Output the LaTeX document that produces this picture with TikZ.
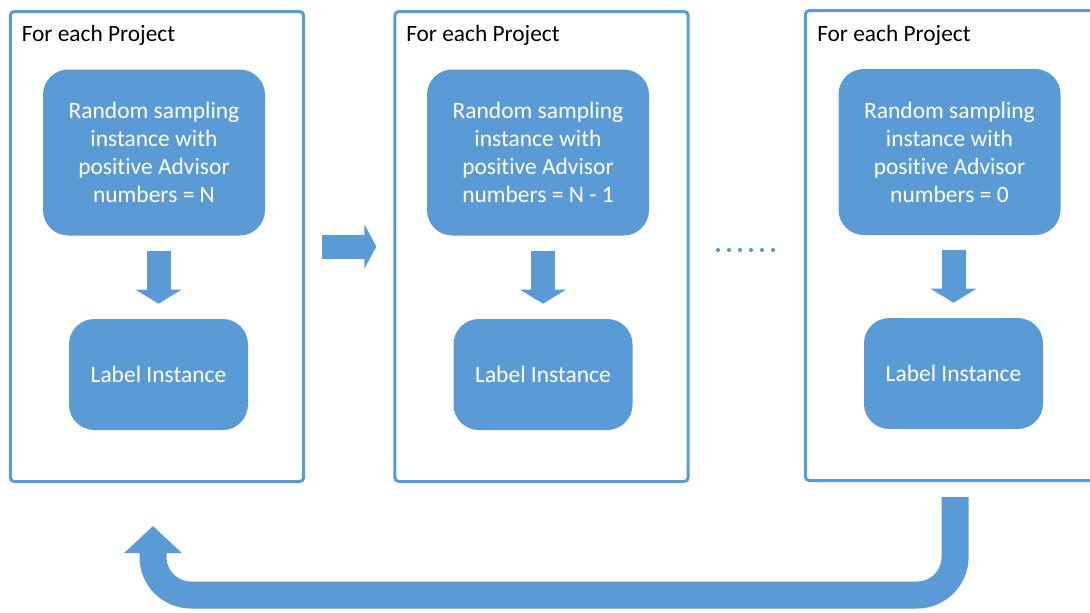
\documentclass[tikz,border=0pt]{standalone}
\usepackage{fontspec}
\setmainfont{Carlito}[Ligatures=NoCommon]
\usetikzlibrary{arrows.meta}
\definecolor{bl}{RGB}{91,155,213}
\begin{document}
\begin{tikzpicture}[x=0.75pt,y=-0.75pt,
  frame/.style={draw=bl, line width=2.25pt, fill=white, rounded corners=3pt,
    minimum width=220pt, minimum height=352.5pt, inner sep=0pt},
  ttl/.style={anchor=base west, font=\fontsize{17.5}{21}\selectfont, text=black, inner sep=0pt},
  topbox/.style={fill=bl, rounded corners=19pt, text=white, align=center, inner sep=0pt,
    font=\fontsize{17.6}{21}\selectfont, minimum width=166.5pt, minimum height=124.5pt},
  lowbox/.style={fill=bl, rounded corners=19pt, text=white, align=center, inner sep=0pt,
    font=\fontsize{17.6}{21}\selectfont, minimum width=134.25pt, minimum height=83.25pt},
  darrow/.style={draw=bl, line width=18pt, -{Triangle[width=33.75pt,length=10.5pt]}},
  rarrow/.style={draw=bl, line width=18pt, -{Triangle[width=33pt,length=9pt]}},
  uarrow/.style={draw=bl, line width=20.25pt, rounded corners=28.5pt, -{Triangle[width=42pt,length=20.25pt]}}
]
\useasboundingbox (0,0) rectangle (1090,612);
% frames
\node[frame] (b1) at (157,246.5) {};
\node[frame] (b2) at (541.5,246.5) {};
\node[frame] (b3) at (952,245.5) {};
% titles
\node[ttl] (t1) at (21.5,41) {For each Project};
\node[ttl] (t2) at (406,41) {For each Project};
\node[ttl] (t3) at (817,41) {For each Project};
% top boxes
\node[topbox] (r1) at (154,152.5) {Random sampling\\instance with\\positive Advisor\\numbers = N};
\node[topbox] (r2) at (538,152.5) {Random sampling\\instance with\\positive Advisor\\numbers = N - 1};
\node[topbox] (r3) at (949.5,152) {Random sampling\\instance with\\positive Advisor\\numbers = 0};
% lower boxes
\node[lowbox] (l1) at (158.5,374.5) {Label Instance};
\node[lowbox] (l2) at (543,374.5) {Label Instance};
\node[lowbox] (l3) at (953.5,373.5) {Label Instance};
% down arrows
\draw[darrow] ([yshift=-11.25pt]l1.north |- r1.south) -- ([yshift=11.25pt]l1.north);
\draw[darrow] ([yshift=-11.25pt]l2.north |- r2.south) -- ([yshift=11.25pt]l2.north);
\draw[darrow] ([yshift=-11.25pt]l3.north |- r3.south) -- ([yshift=11.25pt]l3.north);
% right arrow
\draw[rarrow] ([xshift=12.75pt]b1.east) -- ([xshift=-12.75pt]b2.west |- b1.east);
% dots
\foreach \x in {718,729,740,751,762,773} \fill[bl] (\x,250) circle (2.1);
% return arrow
\draw[uarrow] ([xshift=2.3pt,yshift=-11.25pt]b3.south) -- ++(0,-73.5pt) -| ([xshift=-3pt,yshift=-32.25pt]b1.south);
\end{tikzpicture}
\end{document}
